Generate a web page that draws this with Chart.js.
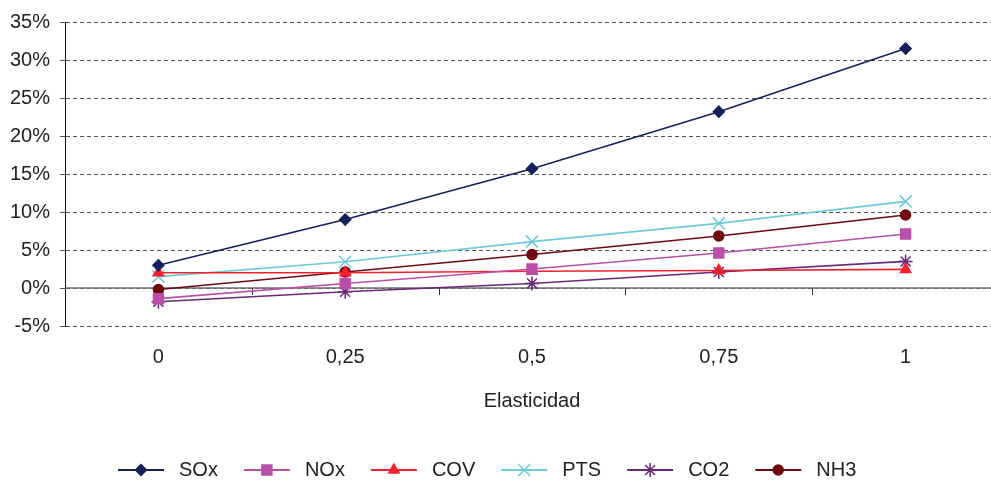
<!DOCTYPE html>
<html>
<head>
<meta charset="utf-8">
<script src="https://cdn.jsdelivr.net/npm/chart.js@4/dist/chart.umd.min.js"></script>
<style>
  html, body { margin: 0; padding: 0; background: #fff; overflow: hidden; }
  canvas { display: block; }
</style>
</head>
<body>
<canvas id="chart" width="1009" height="485" style="width:1009px;height:485px"></canvas>
<script>
// categories and series (percent)
const labels = ["0", "0,25", "0,5", "0,75", "1"];
const sox = [3.0, 9.0, 15.7, 23.2, 31.5];
const nox = [-1.4, 0.6, 2.5, 4.6, 7.1];
const cov = [2.0, 2.0, 2.2, 2.3, 2.45];
const pts = [1.5, 3.45, 6.1, 8.5, 11.4];
const co2 = [-1.8, -0.5, 0.6, 2.1, 3.5];
const nh3 = [-0.2, 2.1, 4.4, 6.85, 9.6];

const series = [
  { label: "SOx", data: sox, color: "#14215e", style: "rectRot", r: 5.5 },
  { label: "NOx", data: nox, color: "#b94fa8", style: "rect", r: 7 },
  { label: "COV", data: cov, color: "#f5202e", style: "triangle", r: 6 },
  { label: "PTS", data: pts, color: "#6ccbdc", style: "crossRot", r: 8.5 },
  { label: "CO2", data: co2, color: "#6b2778", style: "star", r: 7 },
  { label: "NH3", data: nh3, color: "#6e0a10", style: "circle", r: 5 },
];

const FONT = "'Liberation Sans', Arial, sans-serif";

// solid zero line with little ticks between categories
const zeroLine = {
  id: "zeroLine",
  beforeDatasetsDraw(chart) {
    const { ctx, chartArea, scales } = chart;
    const y = scales.y.getPixelForValue(0);
    const step = scales.x.getPixelForValue(1) - scales.x.getPixelForValue(0);
    ctx.save();
    ctx.strokeStyle = "#6e6e6e";
    ctx.lineWidth = 1.5;
    ctx.beginPath();
    ctx.moveTo(chartArea.left, y);
    ctx.lineTo(chartArea.right, y);
    ctx.stroke();
    ctx.lineWidth = 1;
    ctx.strokeStyle = "#333";
    for (let i = 1; i <= labels.length; i++) {
      const x = Math.round(scales.x.getPixelForValue(i) - step / 2) + 0.5;
      ctx.beginPath();
      ctx.moveTo(x, y);
      ctx.lineTo(x, y + 7);
      ctx.stroke();
    }
    ctx.restore();
  }
};

// legend drawn as line + marker like the original
const lineLegend = {
  id: "lineLegend",
  afterDraw(chart) {
    const { ctx } = chart;
    const y = 470;
    const lineLen = 46, gap = 15, itemGap = 26;
    ctx.save();
    ctx.font = "20px " + FONT;
    let x = 118;
    series.forEach((s) => {
      ctx.strokeStyle = s.color;
      ctx.lineWidth = 2;
      ctx.beginPath();
      ctx.moveTo(x, y);
      ctx.lineTo(x + lineLen, y);
      ctx.stroke();
      ctx.fillStyle = s.color;
      ctx.lineWidth = 1.5;
      Chart.helpers.drawPoint(ctx, { pointStyle: s.style, radius: s.r, borderWidth: 1.5 }, x + lineLen / 2, y);
      ctx.fillStyle = "#222";
      ctx.textBaseline = "middle";
      ctx.fillText(s.label, x + lineLen + gap, y);
      x += lineLen + gap + ctx.measureText(s.label).width + itemGap;
    });
    ctx.restore();
  }
};

new Chart(document.getElementById("chart"), {
  type: "line",
  data: {
    labels: labels,
    datasets: series.map(s => ({
      label: s.label,
      data: s.data,
      borderColor: s.color,
      backgroundColor: s.color,
      borderWidth: 1.6,
      pointStyle: s.style,
      pointRadius: s.r,
      pointBorderWidth: 1.5,
      pointBorderColor: s.color,
      pointBackgroundColor: s.color,
      tension: 0,
    })),
  },
  options: {
    responsive: false,
    animation: false,
    layout: { padding: { top: 21, right: 0, bottom: 59, left: 0 } },
    plugins: {
      legend: { display: false },
      tooltip: { enabled: false },
    },
    scales: {
      x: {
        offset: true,
        grid: { display: false, drawTicks: false },
        border: { display: false },
        ticks: { color: "#222", font: { family: FONT, size: 20 }, padding: 19 },
        title: {
          display: true,
          text: "Elasticidad",
          color: "#222",
          font: { family: FONT, size: 20 },
          padding: { top: 0, bottom: 13 },
        },
        afterFit(scale) { scale.height = 100; },
      },
      y: {
        min: -5,
        max: 35,
        ticks: {
          stepSize: 5,
          color: "#222",
          font: { family: FONT, size: 20 },
          padding: 10,
          callback: v => v + "%",
        },
        grid: { color: "#555", lineWidth: 1, tickLength: 5 },
        border: { display: true, color: "#111", width: 1, dash: [4, 3] },
        afterFit(scale) { scale.width = 65; },
      },
    },
  },
  plugins: [zeroLine, lineLegend],
});
</script>
</body>
</html>
